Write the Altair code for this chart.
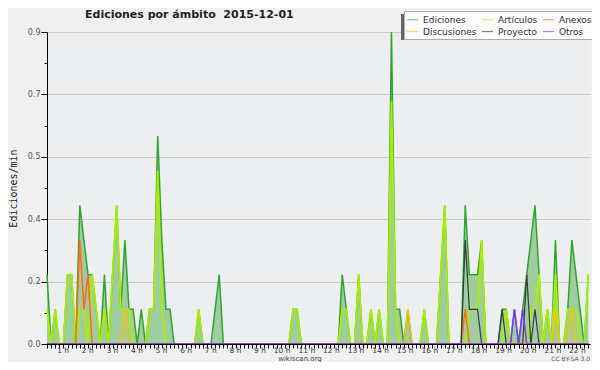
import altair as alt
import pandas as pd

# ---- data (10-minute bins, edits per minute) ----
series_names = ["Ediciones", "Artículos", "Anexos", "Discusiones", "Proyecto", "Otros"]
series_colors = {"Ediciones": "#2fa52f", "Artículos": "#aaee00", "Anexos": "#ff6a1a",
                 "Discusiones": "#ffc000", "Proyecto": "#3a3a3a", "Otros": "#8833ff"}
# legend is filled column by column: this order gives the reference's rows
legend_order = ["Ediciones", "Discusiones", "Artículos", "Proyecto", "Anexos", "Otros"]

ediciones = [
    0.2, 0, 0.1, 0, 0, 0.2, 0.2, 0, 0.4, 0.3, 0.2, 0.2,
    0.1, 0, 0.2, 0, 0.2, 0.4, 0.1, 0.3, 0.1, 0.1, 0, 0.1,
    0, 0.1, 0.1, 0.6, 0.3, 0.1, 0.1, 0, 0, 0, 0, 0,
    0, 0.1, 0, 0, 0, 0.1, 0.2, 0, 0, 0, 0, 0,
    0, 0, 0, 0, 0, 0, 0, 0, 0, 0, 0, 0,
    0.1, 0.1, 0, 0, 0, 0, 0, 0, 0, 0, 0, 0,
    0.2, 0.1, 0, 0, 0.2, 0, 0, 0.1, 0, 0.1, 0, 0,
    0.9, 0.1, 0.1, 0, 0.1, 0, 0, 0, 0.1, 0, 0, 0,
    0.2, 0.4, 0, 0, 0, 0, 0.4, 0.2, 0.2, 0.2, 0.3, 0,
    0, 0, 0, 0.1, 0.1, 0, 0.1, 0, 0.1, 0.2, 0.3, 0.4,
    0.2, 0, 0.1, 0, 0.3, 0, 0, 0.1, 0.3, 0.2, 0.1, 0,
    0.2,
]
articulos = [
    0.1, 0, 0.1, 0, 0, 0.2, 0.2, 0, 0.1, 0.1, 0, 0.2,
    0.1, 0, 0.1, 0, 0.2, 0.4, 0.1, 0.1, 0.1, 0, 0, 0,
    0, 0.1, 0.1, 0.5, 0.1, 0, 0, 0, 0, 0, 0, 0,
    0, 0.1, 0, 0, 0, 0, 0, 0, 0, 0, 0, 0,
    0, 0, 0, 0, 0, 0, 0, 0, 0, 0, 0, 0,
    0.1, 0.1, 0, 0, 0, 0, 0, 0, 0, 0, 0, 0,
    0.1, 0.1, 0, 0, 0.2, 0, 0, 0.1, 0, 0.1, 0, 0,
    0.7, 0.1, 0, 0, 0, 0, 0, 0, 0.1, 0, 0, 0,
    0.2, 0.4, 0, 0, 0, 0, 0, 0.1, 0.1, 0.1, 0.3, 0,
    0, 0, 0, 0, 0.1, 0, 0, 0, 0, 0, 0.1, 0.1,
    0.2, 0, 0.1, 0, 0.2, 0, 0, 0.1, 0.1, 0.1, 0, 0,
    0.2,
]
anexos = [
    0, 0, 0, 0, 0, 0, 0, 0, 0.3, 0.1, 0.2, 0,
    0, 0, 0, 0, 0, 0, 0, 0, 0, 0, 0, 0,
    0, 0, 0, 0, 0, 0, 0, 0, 0, 0, 0, 0,
    0, 0, 0, 0, 0, 0, 0, 0, 0, 0, 0, 0,
    0, 0, 0, 0, 0, 0, 0, 0, 0, 0, 0, 0,
    0, 0, 0, 0, 0, 0, 0, 0, 0, 0, 0, 0,
    0, 0, 0, 0, 0, 0, 0, 0, 0, 0, 0, 0,
    0, 0, 0, 0, 0, 0, 0, 0, 0, 0, 0, 0,
    0, 0, 0, 0, 0, 0, 0.1, 0, 0, 0, 0, 0,
    0, 0, 0, 0, 0, 0, 0, 0, 0, 0, 0, 0,
    0, 0, 0, 0, 0, 0, 0, 0, 0, 0, 0, 0,
    0,
]
discusiones = [
    0, 0, 0, 0, 0, 0, 0, 0, 0, 0, 0, 0,
    0, 0, 0, 0, 0, 0, 0, 0.1, 0, 0, 0, 0,
    0, 0, 0, 0, 0, 0, 0, 0, 0, 0, 0, 0,
    0, 0, 0, 0, 0, 0, 0, 0, 0, 0, 0, 0,
    0, 0, 0, 0, 0, 0, 0, 0, 0, 0, 0, 0,
    0, 0, 0, 0, 0, 0, 0, 0, 0, 0, 0, 0,
    0, 0, 0, 0, 0, 0, 0, 0, 0, 0, 0, 0,
    0, 0, 0, 0, 0.1, 0, 0, 0, 0, 0, 0, 0,
    0, 0, 0, 0, 0, 0, 0, 0, 0, 0, 0, 0,
    0, 0, 0, 0, 0, 0, 0, 0, 0, 0, 0, 0,
    0, 0, 0, 0, 0.1, 0, 0, 0, 0.1, 0, 0, 0,
    0,
]
proyecto = [
    0, 0, 0, 0, 0, 0, 0, 0, 0, 0, 0, 0,
    0, 0, 0, 0, 0, 0, 0, 0, 0, 0, 0, 0,
    0, 0, 0, 0, 0, 0, 0, 0, 0, 0, 0, 0,
    0, 0, 0, 0, 0, 0, 0, 0, 0, 0, 0, 0,
    0, 0, 0, 0, 0, 0, 0, 0, 0, 0, 0, 0,
    0, 0, 0, 0, 0, 0, 0, 0, 0, 0, 0, 0,
    0, 0, 0, 0, 0, 0, 0, 0, 0, 0, 0, 0,
    0, 0, 0, 0, 0, 0, 0, 0, 0, 0, 0, 0,
    0, 0, 0, 0, 0, 0, 0.3, 0.1, 0.1, 0.1, 0, 0,
    0, 0, 0, 0.1, 0, 0, 0, 0, 0, 0.2, 0, 0.1,
    0, 0, 0, 0, 0, 0, 0, 0, 0, 0, 0, 0,
    0,
]
otros = [
    0, 0, 0, 0, 0, 0, 0, 0, 0, 0, 0, 0,
    0, 0, 0, 0, 0, 0, 0, 0, 0, 0, 0, 0,
    0, 0, 0, 0, 0, 0, 0, 0, 0, 0, 0, 0,
    0, 0, 0, 0, 0, 0, 0, 0, 0, 0, 0, 0,
    0, 0, 0, 0, 0, 0, 0, 0, 0, 0, 0, 0,
    0, 0, 0, 0, 0, 0, 0, 0, 0, 0, 0, 0,
    0, 0, 0, 0, 0, 0, 0, 0, 0, 0, 0, 0,
    0, 0, 0, 0, 0, 0, 0, 0, 0, 0, 0, 0,
    0, 0, 0, 0, 0, 0, 0, 0, 0, 0, 0, 0,
    0, 0, 0, 0, 0, 0, 0.1, 0, 0.1, 0, 0, 0,
    0, 0, 0, 0, 0, 0, 0, 0, 0, 0, 0, 0,
    0,
]

title_text = "Ediciones por ámbito\u00a0\u00a02015-12-01"
footer_text = "wikiscan.org"
license_text = "CC BY-SA 3.0"
y_title = "Ediciones/min"

# ---- long table ----
series_values = [ediciones, articulos, anexos, discusiones, proyecto, otros]
rows = []
for name, vals in zip(series_names, series_values):
    for i, v in enumerate(vals):
        rows.append({"t": i / 6, "v": v, "serie": name})
df = pd.DataFrame(rows)

x_ticks = [i / 6 for i in range(133)]
y_ticks = [round(0.09 * k, 2) for k in range(11)]
major = "round(datum.value*100) % 18 == 0"

x_scale = alt.Scale(domain=[0, 22.07], nice=False, zero=False)
y_scale = alt.Scale(domain=[0, 0.9], nice=False)

x_axis = alt.Axis(
    values=x_ticks, title=None, grid=False,
    labelExpr="(abs(datum.value - round(datum.value)) < 0.001 && datum.value > 0.5) ? round(datum.value) + ' h' : ''",
    labelAlign="right", labelOffset=-3, labelBaseline="top", labelPadding=-2,
    labelFont="DejaVu Sans", labelFontSize=7.5, labelColor="#333333",
    labelOverlap=False, labelFlush=False, labelBound=False,
    tickSize=4, tickColor="#000000", domainColor="#000000", zindex=1,
)
y_axis = alt.Axis(
    values=y_ticks, title=y_title,
    labelExpr="(" + major + ") ? format(datum.value, '.1f') : ''",
    labelFont="DejaVu Sans", labelFontSize=8, labelColor="#555555",
    labelPadding=1, labelOverlap=False, labelFlush=False,
    tickColor="#000000", domainColor="#000000",
    tickSize={"condition": {"test": major, "value": 6}, "value": 3},
    grid=True, gridColor="#cccccc",
    gridOpacity={"condition": {"test": major, "value": 1}, "value": 0},
    titleFont="DejaVu Sans Mono", titleFontSize=10, titleFontWeight="normal",
    titleColor="#222222", titleAngle=270, titleX=-34, titleY=156,
    titleAlign="center", titleBaseline="middle",
)

color_scale = alt.Scale(domain=legend_order, range=[series_colors[n] for n in legend_order])
legend = alt.Legend(
    orient="none", legendX=357, legendY=-21, columns=3, title=None,
    symbolType="stroke", symbolSize=121, symbolStrokeWidth=1.2, symbolOpacity=0.6,
    labelFont="DejaVu Sans", labelFontSize=9, labelColor="#333333", labelOffset=4,
    fillColor="#fbfbfb", strokeColor="#aaaaaa", padding=2,
    rowPadding=0, columnPadding=2,
)

base = alt.Chart(df)
area = base.transform_filter(alt.datum.serie == "Ediciones").mark_area(
    color="#9fcd9f", opacity=1
).encode(x=alt.X("t:Q", scale=x_scale, axis=x_axis), y=alt.Y("v:Q", scale=y_scale, axis=y_axis))

widths = {"Ediciones": 1.5, "Artículos": 1.8, "Anexos": 1.5, "Discusiones": 1.5, "Proyecto": 1.2, "Otros": 1.5}
draw_order = ["Ediciones", "Artículos", "Discusiones", "Anexos", "Proyecto", "Otros"]
line_layers = []
for name in draw_order:
    line_layers.append(
        base.transform_filter(alt.datum.serie == name).mark_line(strokeWidth=widths[name]).encode(
            x=alt.X("t:Q", scale=x_scale, axis=x_axis),
            y=alt.Y("v:Q", scale=y_scale, axis=y_axis),
            color=alt.Color("serie:N", scale=color_scale, legend=legend),
        )
    )

shadow = alt.Chart(pd.DataFrame({"k": [0]})).mark_rect(color="#666666").encode(
    x=alt.value(354), x2=alt.value(543), y=alt.value(-18), y2=alt.value(8)
)
title = alt.Chart(pd.DataFrame({"s": [title_text]})).mark_text(
    font="DejaVu Sans", fontSize=11, fontWeight="bold", color="#222222", align="left", baseline="middle"
).encode(text="s:N", x=alt.value(38), y=alt.value(-17))
footer = alt.Chart(pd.DataFrame({"s": [footer_text]})).mark_text(
    font="DejaVu Sans", fontSize=7, color="#444444", align="center", baseline="middle"
).encode(text="s:N", x=alt.value(253), y=alt.value(327))
lic = alt.Chart(pd.DataFrame({"s": [license_text]})).mark_text(
    font="DejaVu Sans", fontSize=6, color="#555555", align="right", baseline="middle"
).encode(text="s:N", x=alt.value(543), y=alt.value(327))

chart = alt.layer(area, *line_layers, shadow, title, footer, lic).properties(
    width=543, height=312,
    padding={"left": 39, "top": 24, "right": 2, "bottom": 18},
    autosize=alt.AutoSizeParams(type="none"),
    background="#f0f0f0",
).configure_view(fill="#edeef0", stroke=None)

chart.save("out.html", embed_options={"renderer": "svg", "actions": False})
